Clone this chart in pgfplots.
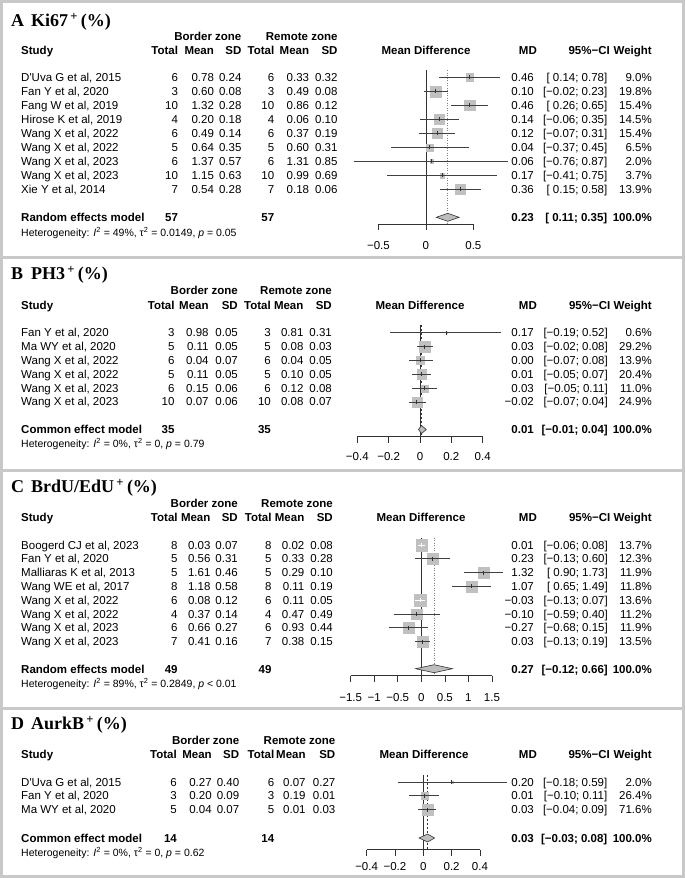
\documentclass[border=0pt]{standalone}
\usepackage{pgfplots}
\pgfplotsset{compat=1.18}
\usepackage{pgfplotstable}
\usepackage{fontspec}
\setmainfont{Liberation Sans}
\newfontfamily\serifb{Liberation Serif}
\definecolor{frm}{HTML}{C8C8C8}
\definecolor{sq}{HTML}{C0C0C0}
\definecolor{dia}{HTML}{BDBDBD}
\definecolor{ln}{HTML}{333333}
\definecolor{ci}{HTML}{404040}
\newcommand\fs{\fontsize{11.5}{13}\selectfont}
\newcommand\fh{\fontsize{10.5}{12}\selectfont}
\newcommand\ft{\serifb\bfseries\fontsize{18}{20}\selectfont}
\newcommand\ap{\textquotesingle}
\tikzset{hb/.style={font=\fs\bfseries}}
\newcommand\setcols[9]{\def\cTa{#1}\def\cMa{#2}\def\cSa{#3}\def\cTb{#4}\def\cMb{#5}\def\cSb{#6}\def\cMD{#7}\def\cCI{#8}\def\cW{#9}}
\newcommand\lrow[8]{%
 \node[anchor=base west] at (21,#1+4) {#2};
 \node[anchor=base east] at (\cTa,#1+4) {#3};
 \node[anchor=base east] at (\cMa,#1+4) {#4};
 \node[anchor=base east] at (\cSa,#1+4) {#5};
 \node[anchor=base east] at (\cTb,#1+4) {#6};
 \node[anchor=base east] at (\cMb,#1+4) {#7};
 \node[anchor=base east] at (\cSb,#1+4) {#8};}
\newcommand\rrow[4]{%
 \node[anchor=base east] at (\cMD,#1+4) {#2};
 \node[anchor=base east] at (\cCI,#1+4) {#3};
 \node[anchor=base east] at (\cW,#1+4) {#4};}
\newcommand\header[3]{%
 \node[hb, anchor=base east] at (\cSa,#1+4) {Border zone};
 \node[hb, anchor=base east] at (\cSb,#1+4) {Remote zone};
 \node[hb, anchor=base west] at (21,#2+4) {Study};
 \node[hb, anchor=base east] at (\cTa,#2+4) {Total};
 \node[hb, anchor=base east] at (\cMa,#2+4) {Mean};
 \node[hb, anchor=base east] at (\cSa,#2+4) {SD};
 \node[hb, anchor=base east] at (\cTb,#2+4) {Total};
 \node[hb, anchor=base east] at (\cMb,#2+4) {Mean};
 \node[hb, anchor=base east] at (\cSb,#2+4) {SD};
 \node[hb, anchor=base] at (#3,#2+4) {Mean Difference};
 \node[hb, anchor=base east] at (\cMD+3,#2+4) {MD};
 \node[hb, anchor=base east] at (\cCI+2.5,#2+4) {95\%−CI};
 \node[hb, anchor=base east] at (\cW,#2+4) {Weight};}
\newcommand\model[7]{% y name n1 n2 md ci w
 \node[hb, anchor=base west] at (21,#1+4) {#2};
 \node[hb, anchor=base east] at (\cTa,#1+4) {#3};
 \node[hb, anchor=base east] at (\cTb,#1+4) {#4};
 \node[hb, anchor=base east] at (\cMD,#1+4) {#5};
 \node[hb, anchor=base east] at (\cCI,#1+4) {#6};
 \node[hb, anchor=base east] at (\cW,#1+4) {#7};}
\newcommand\het[2]{\node[anchor=base west, font=\fh] at (21,#1+3.7) {#2};}
\newcommand\ttl[3]{\node[anchor=base west, font=\ft] at (11,#1+6) {#2};
 \node[anchor=base west, font=\ft] at (31,#1+6) {#3\textsuperscript{\,+}\,(\%)};}
\newcommand\tk[4]{\draw[ln, line width=0.6pt] (axis cs:#1,#2) -- (axis cs:#1,#2+6);
 \node[anchor=base, inner sep=0pt, font=\fs] at (axis cs:#1,#3+4) {#4};}

\pgfplotsset{forest/.style={scale only axis, hide axis, clip=false, y dir=reverse, enlargelimits=false, anchor=north west, set layers},
 sqs/.style={scatter, only marks, mark=square*, forget plot,
   scatter/use mapped color={draw=sq, fill=sq},
   mark options={line width=0.1pt},
   visualization depends on={#1*sqrt(\thisrow{w}) \as \ms},
   scatter/@pre marker code/.append style={/tikz/mark size=\ms}},
 cix/.style={draw=none, mark=none, forget plot, on layer=axis foreground, error bars/.cd, x dir=both, x explicit,
   error mark=none, error bar style={draw=#1, solid, line width=0.75pt}},
 ciy/.style={draw=none, mark=none, forget plot, on layer=axis foreground, error bars/.cd, y dir=both, y fixed=2,
   error mark=none, error bar style={draw=#1, solid, line width=0.75pt}}}
\newcommand\cis[3]{% table, line color, tick color
 \addplot[cix=#2] table[x=md, y=y, x error minus expr=\thisrow{md}-\thisrow{lo}, x error plus expr=\thisrow{hi}-\thisrow{md}] #1;
 \addplot[ciy=#3] table[x=md, y=y] #1;}

\pgfplotstableread{
y md lo hi w
77.3 0.46 0.14 0.78 9.0
91.3 0.10 -0.02 0.23 19.8
105.3 0.46 0.26 0.65 15.4
119.3 0.14 -0.06 0.35 14.5
133.3 0.12 -0.07 0.31 15.4
147.3 0.04 -0.37 0.45 6.5
161.3 0.06 -0.76 0.87 2.0
175.3 0.17 -0.41 0.75 3.7
189.3 0.36 0.15 0.58 13.9
}\dataA
\pgfplotstableread{
y md lo hi w
332.7 0.17 -0.19 0.52 0.6
346.5 0.03 -0.02 0.08 29.2
360.4 0.00 -0.07 0.08 13.9
374.2 0.01 -0.05 0.07 20.4
388.1 0.03 -0.05 0.11 11.0
401.9 -0.02 -0.07 0.04 24.9
}\dataB
\pgfplotstableread{
y md lo hi w
558.8 0.23 -0.13 0.60 12.3
572.6 1.32 0.90 1.73 11.9
586.4 1.07 0.65 1.49 11.8
614.0 -0.10 -0.59 0.40 11.2
627.8 -0.27 -0.68 0.15 11.9
641.6 0.03 -0.13 0.19 13.5
}\dataC
\pgfplotstableread{
y md lo hi w
545.0 0.01 -0.06 0.08 13.7
600.2 -0.03 -0.13 0.07 13.6
}\dataCin
\pgfplotstableread{
y md lo hi w
782.0 0.20 -0.18 0.59 2.0
795.7 0.01 -0.10 0.11 26.4
809.5 0.03 -0.04 0.09 71.6
}\dataD

\begin{document}
\begin{tikzpicture}
\begin{scope}[x=1pt, y=-1pt, every node/.style={inner sep=0pt, font=\fs}]
\useasboundingbox (0,0) rectangle (685,878);
\fill[white] (0,0) rectangle (685,878);
\draw[frm, line width=3pt] (1.5,1.5) rectangle (683.5,876.5);
\draw[frm, line width=3pt] (0,257.5) -- (685,257.5);
\draw[frm, line width=3pt] (0,470.5) -- (685,470.5);
\draw[frm, line width=3pt] (0,708.3) -- (685,708.3);

% ---------- Panel A ----------
\setcols{178.2}{214.1}{241.6}{274.4}{309.3}{337.7}{534}{607.5}{652}
\ttl{20.5}{A}{Ki67}
\header{36}{50.5}{426}
\lrow{77.3}{D\ap Uva G et al, 2015}{6}{0.78}{0.24}{6}{0.33}{0.32}\rrow{77.3}{0.46}{[ 0.14; 0.78]}{9.0\%}
\lrow{91.3}{Fan Y et al, 2020}{3}{0.60}{0.08}{3}{0.49}{0.08}\rrow{91.3}{0.10}{[−0.02; 0.23]}{19.8\%}
\lrow{105.3}{Fang W et al, 2019}{10}{1.32}{0.28}{10}{0.86}{0.12}\rrow{105.3}{0.46}{[ 0.26; 0.65]}{15.4\%}
\lrow{119.3}{Hirose K et al, 2019}{4}{0.20}{0.18}{4}{0.06}{0.10}\rrow{119.3}{0.14}{[−0.06; 0.35]}{14.5\%}
\lrow{133.3}{Wang X et al, 2022}{6}{0.49}{0.14}{6}{0.37}{0.19}\rrow{133.3}{0.12}{[−0.07; 0.31]}{15.4\%}
\lrow{147.3}{Wang X et al, 2022}{5}{0.64}{0.35}{5}{0.60}{0.31}\rrow{147.3}{0.04}{[−0.37; 0.45]}{6.5\%}
\lrow{161.3}{Wang X et al, 2023}{6}{1.37}{0.57}{6}{1.31}{0.85}\rrow{161.3}{0.06}{[−0.76; 0.87]}{2.0\%}
\lrow{175.3}{Wang X et al, 2023}{10}{1.15}{0.63}{10}{0.99}{0.69}\rrow{175.3}{0.17}{[−0.41; 0.75]}{3.7\%}
\lrow{189.3}{Xie Y et al, 2014}{7}{0.54}{0.28}{7}{0.18}{0.06}\rrow{189.3}{0.36}{[ 0.15; 0.58]}{13.9\%}
\model{217.3}{Random effects model}{57}{57}{0.23}{[ 0.11; 0.35]}{100.0\%}
\het{232.5}{Heterogeneity: \textit{I}\textsuperscript{2} = 49\%, τ\textsuperscript{2} = 0.0149, \textit{p} = 0.05}

% ---------- Panel B ----------
\setcols{174.7}{208.8}{238}{271}{303.6}{332}{534}{608}{652}
\ttl{273.5}{B}{PH3}
\header{290.5}{305}{420}
\lrow{332.7}{Fan Y et al, 2020}{3}{0.98}{0.05}{3}{0.81}{0.31}\rrow{332.7}{0.17}{[−0.19; 0.52]}{0.6\%}
\lrow{346.5}{Ma WY et al, 2020}{5}{0.11}{0.05}{5}{0.08}{0.03}\rrow{346.5}{0.03}{[−0.02; 0.08]}{29.2\%}
\lrow{360.4}{Wang X et al, 2022}{6}{0.04}{0.07}{6}{0.04}{0.05}\rrow{360.4}{0.00}{[−0.07; 0.08]}{13.9\%}
\lrow{374.2}{Wang X et al, 2022}{5}{0.11}{0.05}{5}{0.10}{0.05}\rrow{374.2}{0.01}{[−0.05; 0.07]}{20.4\%}
\lrow{388.1}{Wang X et al, 2023}{6}{0.15}{0.06}{6}{0.12}{0.08}\rrow{388.1}{0.03}{[−0.05; 0.11]}{11.0\%}
\lrow{401.9}{Wang X et al, 2023}{10}{0.07}{0.06}{10}{0.08}{0.07}\rrow{401.9}{−0.02}{[−0.07; 0.04]}{24.9\%}
\model{429.5}{Common effect model}{35}{35}{0.01}{[−0.01; 0.04]}{100.0\%}
\het{444}{Heterogeneity: \textit{I}\textsuperscript{2} = 0\%, τ\textsuperscript{2} = 0, \textit{p} = 0.79}

% ---------- Panel C ----------
\setcols{177.8}{210.6}{238}{271.7}{304.5}{333}{534}{608}{652}
\ttl{486.5}{C}{BrdU/EdU}
\header{503.3}{517.7}{421}
\lrow{545.0}{Boogerd CJ et al, 2023}{8}{0.03}{0.07}{8}{0.02}{0.08}\rrow{545.0}{0.01}{[−0.06; 0.08]}{13.7\%}
\lrow{558.8}{Fan Y et al, 2020}{5}{0.56}{0.31}{5}{0.33}{0.28}\rrow{558.8}{0.23}{[−0.13; 0.60]}{12.3\%}
\lrow{572.6}{Malliaras K et al, 2013}{5}{1.61}{0.46}{5}{0.29}{0.10}\rrow{572.6}{1.32}{[ 0.90; 1.73]}{11.9\%}
\lrow{586.4}{Wang WE et al, 2017}{8}{1.18}{0.58}{8}{0.11}{0.19}\rrow{586.4}{1.07}{[ 0.65; 1.49]}{11.8\%}
\lrow{600.2}{Wang X et al, 2022}{6}{0.08}{0.12}{6}{0.11}{0.05}\rrow{600.2}{−0.03}{[−0.13; 0.07]}{13.6\%}
\lrow{614.0}{Wang X et al, 2022}{4}{0.37}{0.14}{4}{0.47}{0.49}\rrow{614.0}{−0.10}{[−0.59; 0.40]}{11.2\%}
\lrow{627.8}{Wang X et al, 2023}{6}{0.66}{0.27}{6}{0.93}{0.44}\rrow{627.8}{−0.27}{[−0.68; 0.15]}{11.9\%}
\lrow{641.6}{Wang X et al, 2023}{7}{0.41}{0.16}{7}{0.38}{0.15}\rrow{641.6}{0.03}{[−0.13; 0.19]}{13.5\%}
\model{669}{Random effects model}{49}{49}{0.27}{[−0.12; 0.66]}{100.0\%}
\het{684}{Heterogeneity: \textit{I}\textsuperscript{2} = 89\%, τ\textsuperscript{2} = 0.2849, \textit{p} < 0.01}

% ---------- Panel D ----------
\setcols{177}{211.9}{239.4}{274.4}{305.8}{335.5}{534}{607.5}{652}
\ttl{723.5}{D}{AurkB}
\header{740.3}{754.7}{424}
\lrow{782.0}{D\ap Uva G et al, 2015}{6}{0.27}{0.40}{6}{0.07}{0.27}\rrow{782.0}{0.20}{[−0.18; 0.59]}{2.0\%}
\lrow{795.7}{Fan Y et al, 2020}{3}{0.20}{0.09}{3}{0.19}{0.01}\rrow{795.7}{0.01}{[−0.10; 0.11]}{26.4\%}
\lrow{809.5}{Ma WY et al, 2020}{5}{0.04}{0.07}{5}{0.01}{0.03}\rrow{809.5}{0.03}{[−0.04; 0.09]}{71.6\%}
\model{838}{Common effect model}{14}{14}{0.03}{[−0.03; 0.08]}{100.0\%}
\het{852.7}{Heterogeneity: \textit{I}\textsuperscript{2} = 0\%, τ\textsuperscript{2} = 0, \textit{p} = 0.62}
\end{scope}

% ===== plots =====
\begin{axis}[forest, at={(331pt,-60pt)}, width=189.8pt, height=190pt, xmin=-1, xmax=1, ymin=60, ymax=250]
\addplot[ln, line width=0.8pt, forget plot] coordinates {(0,70) (0,224.3)};
\addplot[gray, line width=0.6pt, dash pattern=on 1pt off 1.5pt, forget plot] coordinates {(0.23,70) (0.23,224.3)};
\addplot[sqs=1.292] table[x=md,y=y] \dataA;
\cis{\dataA}{ci}{ln}
\addplot[fill=dia, draw=ln, line width=0.6pt] coordinates {(0.11,217.3) (0.23,213.3) (0.35,217.3) (0.23,221.3)} --cycle;
\draw[ln, line width=0.6pt] (axis cs:-0.5,224.3) -- (axis cs:0.5,224.3);
\tk{-0.5}{224.3}{245}{−0.5}\tk{0}{224.3}{245}{0}\tk{0.5}{224.3}{245}{0.5}
\end{axis}

\begin{axis}[forest, at={(341.65pt,-315pt)}, width=172.37pt, height=150pt, xmin=-0.5, xmax=0.6, ymin=315, ymax=465]
\addplot[ln, line width=0.8pt, forget plot] coordinates {(0,325) (0,436.7)};
\addplot[ln, line width=0.6pt, dash pattern=on 2pt off 2pt, forget plot] coordinates {(0.01,325) (0.01,436.7)};
\addplot[sqs=1.064] table[x=md,y=y] \dataB;
\cis{\dataB}{ci}{ln}
\addplot[fill=dia, draw=ln, line width=0.6pt] coordinates {(-0.01,429.5) (0.01,425.5) (0.04,429.5) (0.01,433.5)} --cycle;
\draw[ln, line width=0.6pt] (axis cs:-0.4,436.7) -- (axis cs:0.4,436.7);
\tk{-0.4}{436.7}{456}{−0.4}\tk{-0.2}{436.7}{456}{−0.2}\tk{0}{436.7}{456}{0}\tk{0.2}{436.7}{456}{0.2}\tk{0.4}{436.7}{456}{0.4}
\end{axis}

\begin{axis}[forest, at={(327.1pt,-530pt)}, width=188.4pt, height=175pt, xmin=-2, xmax=2, ymin=530, ymax=705]
\addplot[ln, line width=0.8pt, forget plot] coordinates {(0,537.5) (0,675.7)};
\addplot[gray, line width=0.6pt, dash pattern=on 1pt off 1.5pt, forget plot] coordinates {(0.27,537.5) (0.27,675.7)};
\addplot[sqs=1.553] table[x=md,y=y] \dataC;
\addplot[sqs=1.553] table[x=md,y=y] \dataCin;
\cis{\dataC}{ci}{ln}
\cis{\dataCin}{white}{white}
\addplot[fill=dia, draw=ln, line width=0.6pt] coordinates {(-0.12,668.7) (0.27,664.7) (0.66,668.7) (0.27,672.7)} --cycle;
\draw[ln, line width=0.6pt] (axis cs:-1.5,675.7) -- (axis cs:1.5,675.7);
\tk{-1.5}{675.7}{697}{−1.5}\tk{-1}{675.7}{697}{−1}\tk{-0.5}{675.7}{697}{−0.5}\tk{0}{675.7}{697}{0}\tk{0.5}{675.7}{697}{0.5}\tk{1}{675.7}{697}{1}\tk{1.5}{675.7}{697}{1.5}
\end{axis}

\begin{axis}[forest, at={(352.45pt,-765pt)}, width=155.87pt, height=110pt, xmin=-0.5, xmax=0.6, ymin=765, ymax=875]
\addplot[ln, line width=0.8pt, forget plot] coordinates {(0,774.5) (0,849.5)};
\addplot[ln, line width=0.6pt, dash pattern=on 2pt off 2pt, forget plot] coordinates {(0.03,774.5) (0.03,849.5)};
\addplot[sqs=0.68] table[x=md,y=y] \dataD;
\cis{\dataD}{ci}{ln}
\addplot[fill=dia, draw=ln, line width=0.6pt] coordinates {(-0.03,838) (0.03,834) (0.08,838) (0.03,842)} --cycle;
\draw[ln, line width=0.6pt] (axis cs:-0.4,849.5) -- (axis cs:0.4,849.5);
\tk{-0.4}{849.5}{866.5}{−0.4}\tk{-0.2}{849.5}{866.5}{−0.2}\tk{0}{849.5}{866.5}{0}\tk{0.2}{849.5}{866.5}{0.2}\tk{0.4}{849.5}{866.5}{0.4}
\end{axis}
\end{tikzpicture}
\end{document}
